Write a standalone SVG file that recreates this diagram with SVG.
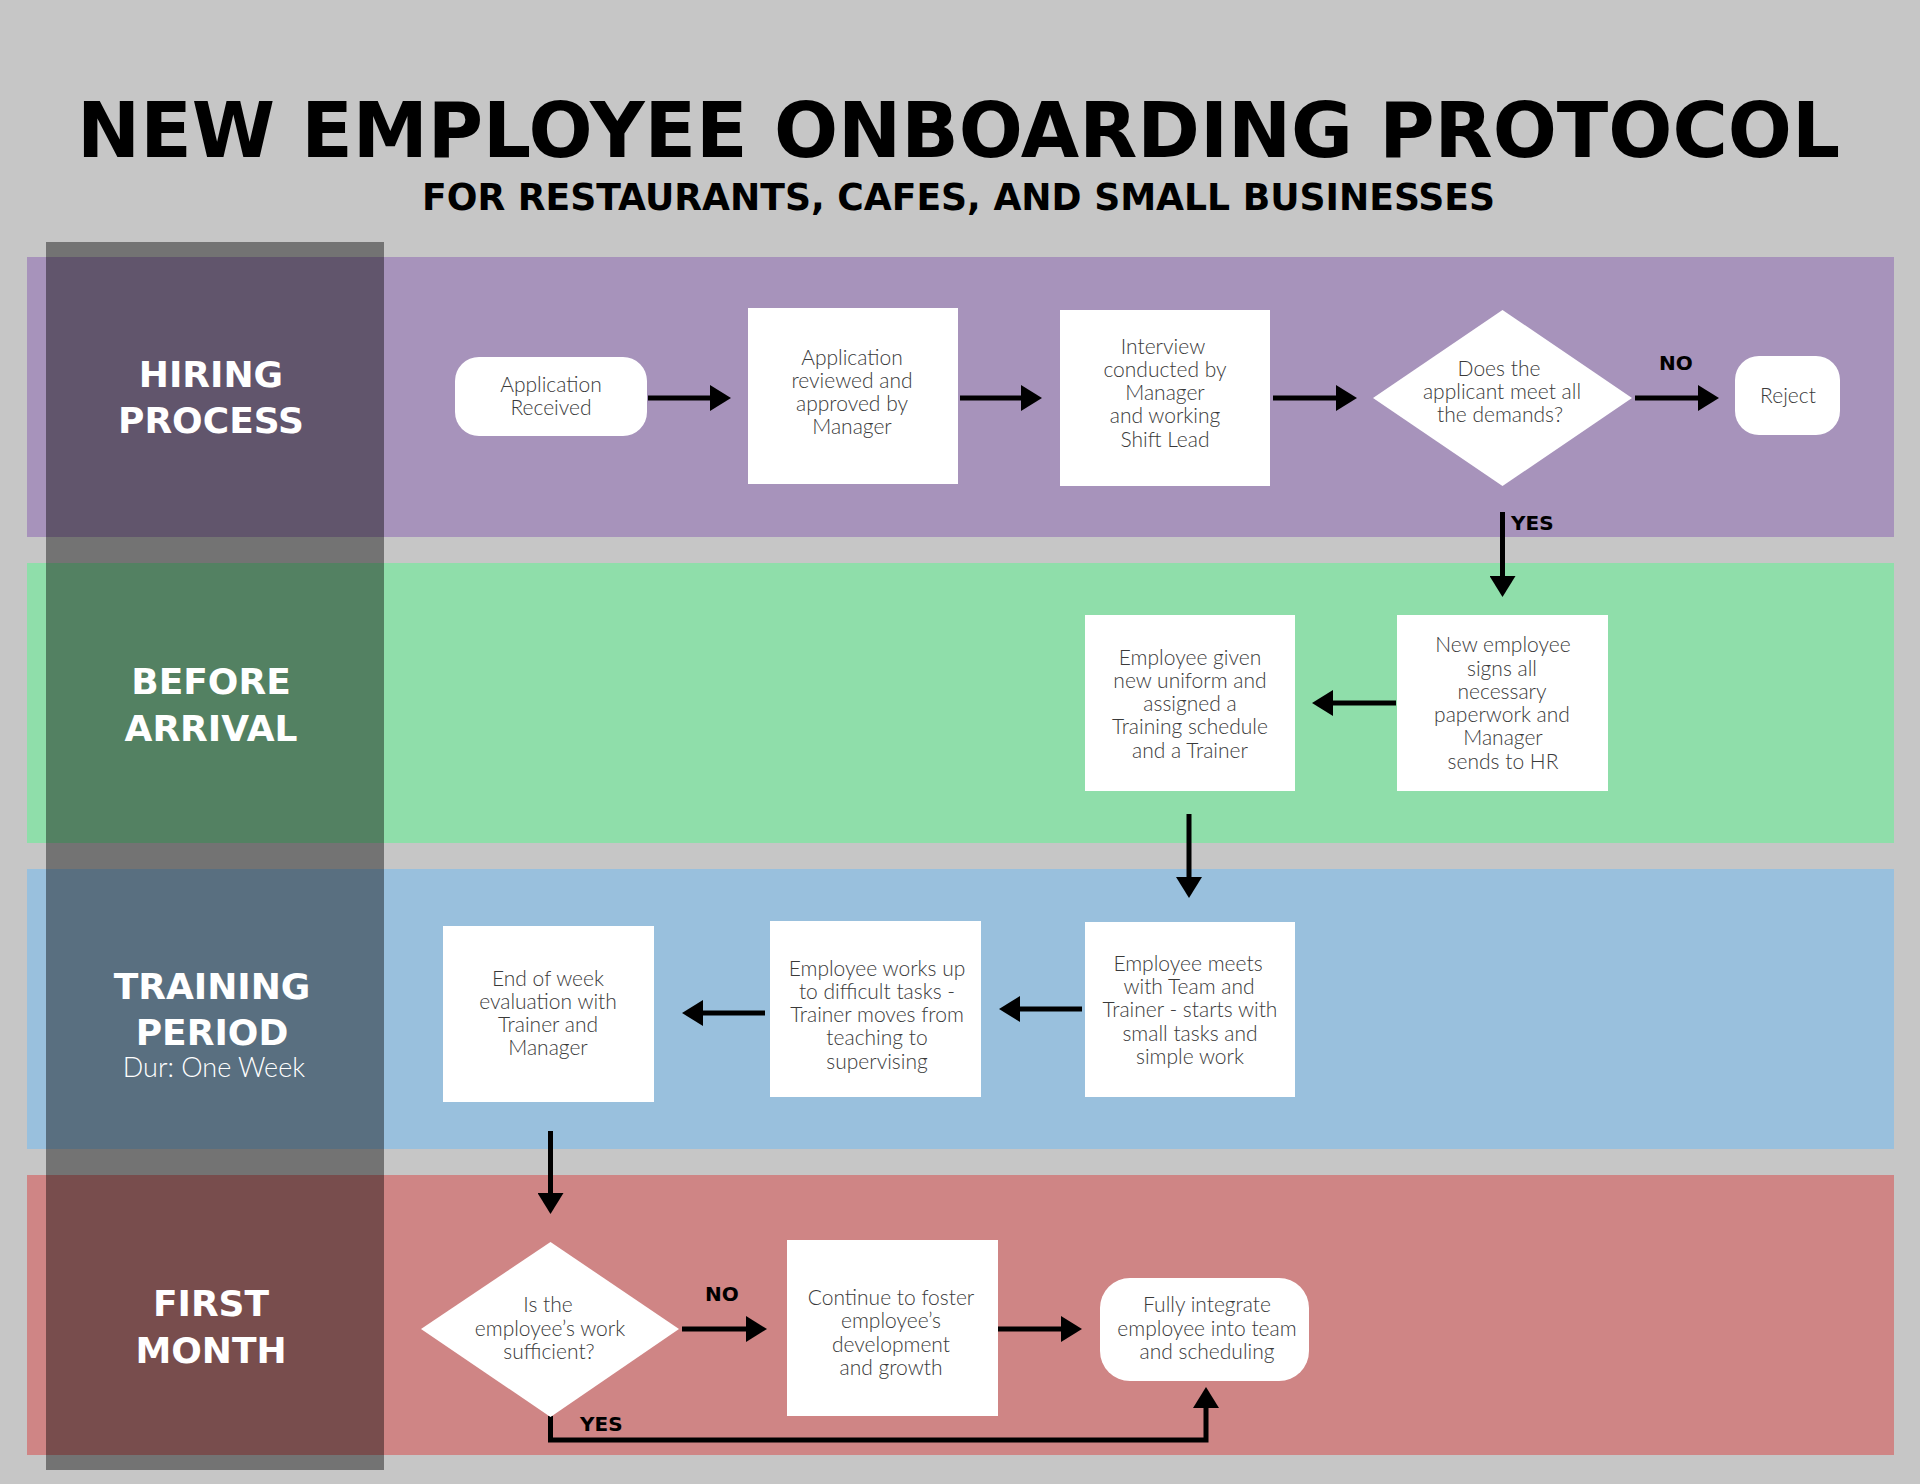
<svg xmlns="http://www.w3.org/2000/svg" width="1920" height="1484" viewBox="0 0 1920 1484">
<style>
.bg{fill:#c6c6c6}
.title{font-family:"DejaVu Sans",sans-serif;font-weight:bold;fill:#000}
.lane-label{font-family:"DejaVu Sans",sans-serif;font-weight:bold;font-size:36px;fill:#fff;text-anchor:middle}
.lane-sub{font-family:Lato,"Liberation Sans",sans-serif;font-weight:300;font-size:27px;fill:#fff;text-anchor:middle}
.node{fill:#fff}
.nt{font-family:Lato,"Liberation Sans",sans-serif;font-weight:300;font-size:21px;fill:#3a3a3a;text-anchor:middle}
.edge{fill:none;stroke:#000;stroke-width:5}
.el{font-family:"DejaVu Sans",sans-serif;font-weight:bold;font-size:20px;fill:#000}
</style>
<defs>
<marker id="ah" markerUnits="userSpaceOnUse" markerWidth="22" markerHeight="26" refX="0" refY="13" orient="auto" viewBox="0 0 22 26">
<path d="M0,0 L21,13 L0,26 Z" fill="#000"/>
</marker>
</defs>
<rect class="bg" x="0" y="0" width="1920" height="1484"/>
<text class="title" x="77" y="157" font-size="76" textLength="1763" lengthAdjust="spacingAndGlyphs">NEW EMPLOYEE ONBOARDING PROTOCOL</text>
<text class="title" x="422" y="210" font-size="37" textLength="1073" lengthAdjust="spacingAndGlyphs">FOR RESTAURANTS, CAFES, AND SMALL BUSINESSES</text>

<g id="lanes">
<rect id="lane-hiring" x="27" y="257" width="1867" height="280" fill="#a793bb"/>
<rect id="lane-before" x="27" y="563" width="1867" height="280" fill="#8fdeaa"/>
<rect id="lane-training" x="27" y="869" width="1867" height="280" fill="#99c0dd"/>
<rect id="lane-first" x="27" y="1175" width="1867" height="280" fill="#cf8585"/>
<rect id="label-column" x="46" y="242" width="338" height="1228" fill="#000" opacity="0.42"/>
<text class="lane-label" x="211" y="387">HIRING</text>
<text class="lane-label" x="211" y="433">PROCESS</text>
<text class="lane-label" x="211" y="694">BEFORE</text>
<text class="lane-label" x="211" y="741">ARRIVAL</text>
<text class="lane-label" x="212" y="999">TRAINING</text>
<text class="lane-label" x="212" y="1045">PERIOD</text>
<text class="lane-sub" x="214" y="1077">Dur: One Week</text>
<text class="lane-label" x="211" y="1316">FIRST</text>
<text class="lane-label" x="211" y="1363">MONTH</text>
</g>

<g id="connectors">
<path class="edge" marker-end="url(#ah)" d="M648,398 H710"/>
<path class="edge" marker-end="url(#ah)" d="M960,398 H1021"/>
<path class="edge" marker-end="url(#ah)" d="M1273,398 H1336"/>
<path class="edge" marker-end="url(#ah)" d="M1635,398 H1698"/>
<path class="edge" marker-end="url(#ah)" d="M1502.5,512 V576"/>
<path class="edge" marker-end="url(#ah)" d="M1396,703 H1333"/>
<path class="edge" marker-end="url(#ah)" d="M1189,814 V877"/>
<path class="edge" marker-end="url(#ah)" d="M1082,1009 H1020"/>
<path class="edge" marker-end="url(#ah)" d="M765,1013 H703"/>
<path class="edge" marker-end="url(#ah)" d="M550.5,1131 V1193"/>
<path class="edge" marker-end="url(#ah)" d="M682,1329 H746"/>
<path class="edge" marker-end="url(#ah)" d="M998,1329 H1061"/>
<path class="edge" marker-end="url(#ah)" d="M550.5,1416 V1440 H1206 V1408"/>
<text class="el" x="1659" y="370">NO</text>
<text class="el" x="1511" y="530">YES</text>
<text class="el" x="705" y="1301">NO</text>
<text class="el" x="580" y="1431">YES</text>
</g>

<g id="n-app-received">
<rect class="node" x="455" y="357" width="192" height="79" rx="24"/>
<text class="nt" x="551" y="392">Application</text>
<text class="nt" x="551" y="415">Received</text>
</g>
<g id="n-app-reviewed">
<rect class="node" x="748" y="308" width="210" height="176"/>
<text class="nt" x="852" y="365">Application</text>
<text class="nt" x="852" y="388">reviewed and</text>
<text class="nt" x="852" y="411">approved by</text>
<text class="nt" x="852" y="434">Manager</text>
</g>
<g id="n-interview">
<rect class="node" x="1060" y="310" width="210" height="176"/>
<text class="nt" x="1163" y="354">Interview</text>
<text class="nt" x="1165" y="377">conducted by</text>
<text class="nt" x="1165" y="400">Manager</text>
<text class="nt" x="1165" y="423">and working</text>
<text class="nt" x="1165" y="447">Shift Lead</text>
</g>
<g id="n-meets-demands">
<path class="node" d="M1502.5,310 L1632,398 L1502.5,486 L1373,398 Z"/>
<text class="nt" x="1499" y="376">Does the</text>
<text class="nt" x="1502" y="399">applicant meet all</text>
<text class="nt" x="1500" y="422">the demands?</text>
</g>
<g id="n-reject">
<rect class="node" x="1735" y="356" width="105" height="79" rx="24"/>
<text class="nt" x="1788" y="403">Reject</text>
</g>
<g id="n-uniform">
<rect class="node" x="1085" y="615" width="210" height="176"/>
<text class="nt" x="1190" y="665">Employee given</text>
<text class="nt" x="1190" y="688">new uniform and</text>
<text class="nt" x="1190" y="711">assigned a</text>
<text class="nt" x="1190" y="734">Training schedule</text>
<text class="nt" x="1190" y="758">and a Trainer</text>
</g>
<g id="n-paperwork">
<rect class="node" x="1397" y="615" width="211" height="176"/>
<text class="nt" x="1503" y="652">New employee</text>
<text class="nt" x="1502" y="676">signs all</text>
<text class="nt" x="1502" y="699">necessary</text>
<text class="nt" x="1502" y="722">paperwork and</text>
<text class="nt" x="1503" y="745">Manager</text>
<text class="nt" x="1503" y="769">sends to HR</text>
</g>
<g id="n-meets-team">
<rect class="node" x="1085" y="922" width="210" height="175"/>
<text class="nt" x="1188" y="971">Employee meets</text>
<text class="nt" x="1189" y="994">with Team and</text>
<text class="nt" x="1190" y="1017">Trainer - starts with</text>
<text class="nt" x="1190" y="1041">small tasks and</text>
<text class="nt" x="1190" y="1064">simple work</text>
</g>
<g id="n-works-up">
<rect class="node" x="770" y="921" width="211" height="176"/>
<text class="nt" x="877" y="976">Employee works up</text>
<text class="nt" x="877" y="999">to difficult tasks -</text>
<text class="nt" x="877" y="1022">Trainer moves from</text>
<text class="nt" x="877" y="1045">teaching to</text>
<text class="nt" x="877" y="1069">supervising</text>
</g>
<g id="n-end-of-week">
<rect class="node" x="443" y="926" width="211" height="176"/>
<text class="nt" x="548" y="986">End of week</text>
<text class="nt" x="548" y="1009">evaluation with</text>
<text class="nt" x="548" y="1032">Trainer and</text>
<text class="nt" x="548" y="1055">Manager</text>
</g>
<g id="n-sufficient">
<path class="node" d="M550.5,1242 L679,1329 L550.5,1417 L421,1329 Z"/>
<text class="nt" x="548" y="1312">Is the</text>
<text class="nt" x="550" y="1336">employee’s work</text>
<text class="nt" x="549" y="1359">sufficient?</text>
</g>
<g id="n-foster">
<rect class="node" x="787" y="1240" width="211" height="176"/>
<text class="nt" x="891" y="1305">Continue to foster</text>
<text class="nt" x="891" y="1328">employee’s</text>
<text class="nt" x="891" y="1352">development</text>
<text class="nt" x="891" y="1375">and growth</text>
</g>
<g id="n-integrate">
<rect class="node" x="1100" y="1278" width="209" height="103" rx="30"/>
<text class="nt" x="1207" y="1312">Fully integrate</text>
<text class="nt" x="1207" y="1336">employee into team</text>
<text class="nt" x="1207" y="1359">and scheduling</text>
</g>
</svg>
